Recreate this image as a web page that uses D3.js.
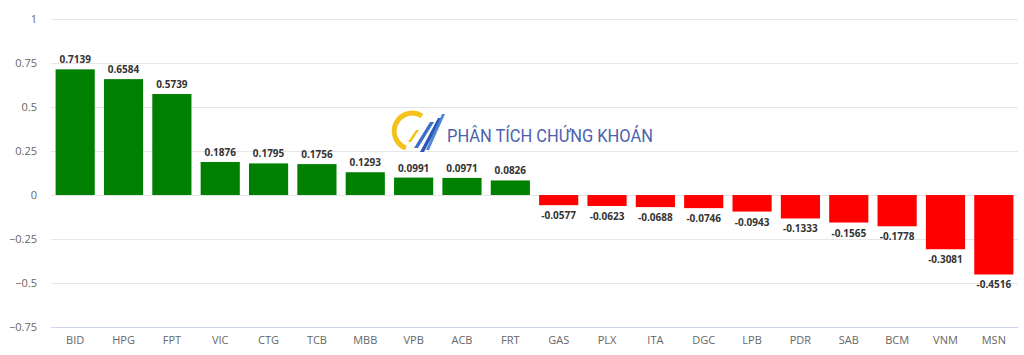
<!DOCTYPE html>
<html>
<head>
<meta charset="utf-8">
<style>
  body { margin: 0; background: #fff; }
  svg text { font-family: "Open Sans", "Noto Sans", sans-serif; }
  .tick line { stroke: #e6e6e6; }
  .axis-y .domain { display: none; }
  .axis-y text, .axis-x text { fill: #666; font-size: 11px; }
  .val { font-size: 10px; font-weight: bold; fill: #333; }
</style>
<script src="https://cdn.jsdelivr.net/npm/d3@7"></script>
</head>
<body>
<script>
var tickers = ["BID","HPG","FPT","VIC","CTG","TCB","MBB","VPB","ACB","FRT",
               "GAS","PLX","ITA","DGC","LPB","PDR","SAB","BCM","VNM","MSN"];
var impact = [0.7139,0.6584,0.5739,0.1876,0.1795,0.1756,0.1293,0.0991,0.0971,0.0826,
              -0.0577,-0.0623,-0.0688,-0.0746,-0.0943,-0.1333,-0.1565,-0.1778,-0.3081,-0.4516];
var yTicks = [-0.75,-0.5,-0.25,0,0.25,0.5,0.75,1];

var width = 1024, height = 355;
var margin = {top: 19, right: 6, bottom: 28, left: 51};

var svg = d3.select("body").append("svg")
    .attr("width", width)
    .attr("height", height);

var x = d3.scaleBand()
    .domain(tickers)
    .range([margin.left, width - margin.right])
    .paddingInner(0.19)
    .paddingOuter(0.095);

var y = d3.scaleLinear()
    .domain([-0.75, 1])
    .range([height - margin.bottom, margin.top]);

// grid + y labels
var gy = svg.append("g")
    .attr("class", "axis-y")
    .attr("transform", "translate(" + margin.left + ",0)")
    .call(d3.axisLeft(y).tickValues(yTicks).tickSize(-(width - margin.left - margin.right)).tickPadding(14)
      .tickFormat(function(d) { return d3.format("")(d).replace("-", "\u2212"); }));
gy.selectAll(".tick text").attr("dy", "0.32em");

// x axis
var gx = svg.append("g")
    .attr("class", "axis-x")
    .attr("transform", "translate(0," + y(-0.75) + ")")
    .call(d3.axisBottom(x).tickSize(0).tickPadding(9));
gx.select(".domain").attr("stroke", "#ccd6eb");

// watermark
var wm = svg.append("g").attr("transform", "translate(400,112)");
wm.append("path")
  .attr("d", "M22,4 A18,18 0 1 0 6,36")
  .attr("fill", "none").attr("stroke", "#f5c21b").attr("stroke-width", 5);
wm.append("path").attr("d", "M8,30 L16,18 L19,18 L11,30 Z").attr("fill", "#f5c21b");
wm.append("path").attr("d", "M14,36 L30,10 L34,10 L18,36 Z").attr("fill", "#3d6fc7");
wm.append("path").attr("d", "M20,40 L38,6 L42,6 L24,40 Z").attr("fill", "#2e57b5");
wm.append("path").attr("d", "M26,38 L42,2 L45,2 L29,38 Z").attr("fill", "#4a86d8");
svg.append("text")
  .attr("x", 447).attr("y", 142)
  .attr("textLength", 206)
  .attr("lengthAdjust", "spacingAndGlyphs")
  .style("font-size", "19px")
  .style("font-family", "Roboto, sans-serif")
  .attr("fill", "#4b62ad")
  .text("PHÂN TÍCH CHỨNG KHOÁN");

// bars
svg.append("g").selectAll("rect")
  .data(impact)
  .enter().append("rect")
    .attr("x", function(d, i) { return x(tickers[i]); })
    .attr("width", x.bandwidth())
    .attr("y", function(d) { return y(Math.max(0, d)); })
    .attr("height", function(d) { return Math.abs(y(d) - y(0)); })
    .attr("fill", function(d) { return d >= 0 ? "#008000" : "#ff0000"; });

// value labels
svg.append("g").selectAll("text")
  .data(impact)
  .enter().append("text")
    .attr("class", "val")
    .attr("text-anchor", "middle")
    .attr("x", function(d, i) { return x(tickers[i]) + x.bandwidth() / 2; })
    .attr("y", function(d) { return d >= 0 ? y(d) - 6 : y(d) + 14; })
    .text(function(d) { return d; });
</script>
</body>
</html>
